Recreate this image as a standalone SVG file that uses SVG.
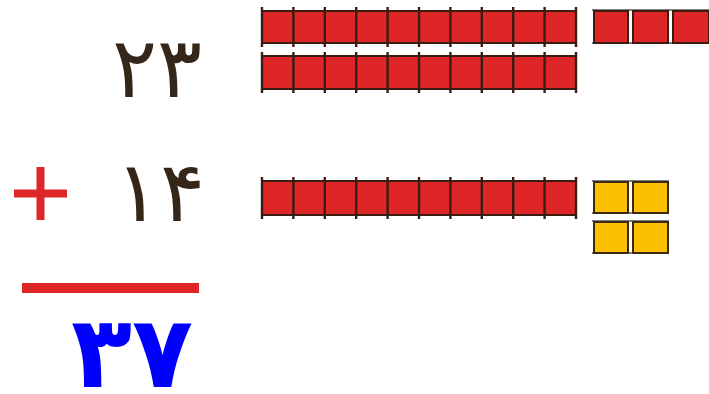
<svg xmlns="http://www.w3.org/2000/svg" width="709" height="394" viewBox="0 0 709 394">
<defs>
<style>
.bar{fill:#de2627;stroke:#3a1c12;stroke-width:2}
.tick{stroke:#3a1c12;stroke-width:2.4}
.red{fill:#de2627;stroke:#3a1c12;stroke-width:2}
.yel{fill:#fcc000;stroke:#3a2a10;stroke-width:2}
.edge{stroke:#555;stroke-width:1.5}
.num{font-family:"DejaVu Sans",sans-serif;fill:#35261a}
.ans{font-family:"DejaVu Sans",sans-serif;font-weight:bold;fill:#0000ff}
</style>
</defs>
<g id="n23">
<text class="num" x="157" y="97" font-size="84" text-anchor="middle">۲۳</text>
</g>
<g id="n14">
<text class="num" x="160" y="221" font-size="84" text-anchor="middle">۱۴</text>
</g>
<g id="plus">
<path d="M14 193.5H67M40.5 167V220" stroke="#de2627" stroke-width="8" fill="none"/>
</g>
<g id="line">
<rect x="22" y="283" width="177" height="10" fill="#de2627"/>
</g>
<g id="n37">
<text class="ans" x="132" y="387" font-size="100" text-anchor="middle">۳۷</text>
</g>
<g id="ten1">
<rect class="bar" x="262" y="11" width="314" height="32"/>
<path class="tick" d="M262 7V47M293.4 7V47M324.8 7V47M356.2 7V47M387.6 7V47M419 7V47M450.4 7V47M481.8 7V47M513.2 7V47M544.6 7V47M576 7V47"/>
</g>
<g id="ten2">
<rect class="bar" x="262" y="56" width="314" height="33"/>
<path class="tick" d="M262 52V93M293.4 52V93M324.8 52V93M356.2 52V93M387.6 52V93M419 52V93M450.4 52V93M481.8 52V93M513.2 52V93M544.6 52V93M576 52V93"/>
</g>
<g id="ten3">
<rect class="bar" x="262" y="181" width="314" height="34"/>
<path class="tick" d="M262 177V219M293.4 177V219M324.8 177V219M356.2 177V219M387.6 177V219M419 177V219M450.4 177V219M481.8 177V219M513.2 177V219M544.6 177V219M576 177V219"/>
</g>
<g id="ones3">
<path class="edge" d="M592 10H709M592 43H709"/>
<rect class="red" x="594" y="11" width="34" height="32"/>
<rect class="red" x="633" y="11" width="35" height="32"/>
<rect class="red" x="673" y="11" width="36" height="32"/>
</g>
<g id="ones4">
<path class="edge" d="M592 181H669M592 213H669M592 221H669M592 253H669"/>
<rect class="yel" x="594" y="182" width="34" height="31"/>
<rect class="yel" x="633" y="182" width="35" height="31"/>
<rect class="yel" x="594" y="222" width="34" height="31"/>
<rect class="yel" x="633" y="222" width="35" height="31"/>
</g>
</svg>
